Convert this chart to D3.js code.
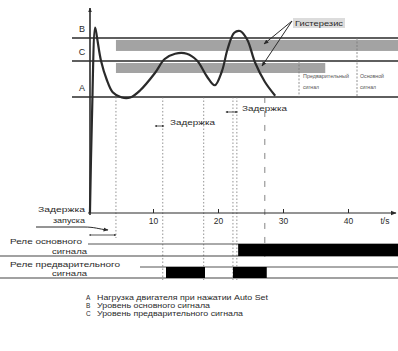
<!DOCTYPE html>
<html><head><meta charset="utf-8">
<script src="https://cdn.jsdelivr.net/npm/d3@7"></script>
<style>
html,body{margin:0;padding:0;background:#fff;}
svg{display:block;font-family:"Liberation Sans",Arial,sans-serif;}
</style></head>
<body>
<svg id="c" width="398" height="351"></svg>
<script>
// ---- data ----
const levels = [{name:"B", v:100}, {name:"C", v:86.9}, {name:"A", v:66.3}];
const bands = [{v0:92.6, v1:98.9, t0:4.3, t1:47.7}, {v0:80, v1:85.7, t0:4.3, t1:36.5}];
const curveT = [0.3,0.6,1.1,1.4,2.0,2.9,3.8,5.2,6.5,8.0,10.3,11.8,13.4,15.2,16.8,18.3,19.5,20.6,21.5,22.5,23.4,24.5,25.7,27.2,28.8];
const curveV = [0,53,106,100,87,76,69,66,66,70,80,88,91,91,87,78,73,81,94,103,104,99,86,75,67];
const xTicks = [10,20,30,40];
const eventTimes = [4.3, 11.5, 17.8, 22.3, 22.9];
const mainRelay = [[23.1, 47.7]];
const preRelay = [[12.0, 18.0], [22.3, 27.5]];
const legendKeys = ["A","B","C"];
const legendTexts = ["Нагрузка двигателя при нажатии Auto Set","Уровень основного сигнала","Уровень предварительного сигнала"];

const svg = d3.select("#c");
const x = d3.scaleLinear().domain([0,40]).range([88,348]);
const y = d3.scaleLinear().domain([0,100]).range([213,38]);
const ink = "#2a2a2a";

function txt(s, tx, ty, size, len, anchor, col){
  const t = svg.append("text").attr("x",tx).attr("y",ty).attr("font-size",size)
    .attr("fill",col||ink).attr("text-anchor",anchor||"start").text(s);
  if (len) t.attr("textLength",len).attr("lengthAdjust","spacingAndGlyphs");
  return t;
}

// defs
const defs = svg.append("defs");
defs.append("marker").attr("id","ah").attr("viewBox","0 0 10 10").attr("refX",9).attr("refY",5)
  .attr("markerWidth",5).attr("markerHeight",5).attr("orient","auto-start-reverse")
  .append("path").attr("d","M0,1L10,5L0,9z").attr("fill",ink);
defs.append("marker").attr("id","ahs").attr("viewBox","0 0 10 10").attr("refX",9).attr("refY",5)
  .attr("markerWidth",3).attr("markerHeight",3).attr("orient","auto-start-reverse")
  .append("path").attr("d","M0,1L10,5L0,9z").attr("fill",ink);

// bands
svg.selectAll("rect.band").data(bands).join("rect").attr("class","band")
  .attr("x",d=>x(d.t0)).attr("width",d=>x(d.t1)-x(d.t0))
  .attr("y",d=>y(d.v1)).attr("height",d=>y(d.v0)-y(d.v1))
  .attr("fill","#a3a3a3");

// level lines
svg.selectAll("line.lvl").data(levels).join("line").attr("class","lvl")
  .attr("x1",72).attr("x2",398).attr("y1",d=>y(d.v)).attr("y2",d=>y(d.v))
  .attr("stroke",ink).attr("stroke-width",1.4);
svg.selectAll("text.lvl").data(levels).join("text").attr("class","lvl")
  .attr("x",82).attr("y",d=>y(d.v)-6).attr("text-anchor","middle")
  .attr("font-size",9).attr("fill",ink).text(d=>d.name);

// event dashed verticals
svg.selectAll("line.ev").data(eventTimes).join("line").attr("class","ev")
  .attr("x1",d=>x(d)).attr("x2",d=>x(d)).attr("y1",y(66.3)).attr("y2",(d,i)=>i===0?238:280)
  .attr("stroke","#777").attr("stroke-width",0.8).attr("stroke-dasharray","1.5,2");
svg.append("line").attr("x1",x(27.2)).attr("x2",x(27.2)).attr("y1",y(66.3)).attr("y2",265)
  .attr("stroke","#666").attr("stroke-width",0.8).attr("stroke-dasharray","6,8");

// y axis
svg.append("line").attr("x1",90).attr("x2",90).attr("y1",215).attr("y2",8)
  .attr("stroke",ink).attr("stroke-width",1.6).attr("marker-end","url(#ahs)");

// x axis
const xAxis = d3.axisBottom(x).tickValues(xTicks).tickSize(-4).tickPadding(5);
const gx = svg.append("g").attr("transform","translate(0,213)").call(xAxis);
gx.select(".domain").remove();
gx.selectAll("line").attr("stroke",ink);
gx.selectAll("text").attr("font-size",8.5).attr("fill",ink);
svg.append("line").attr("x1",88).attr("x2",396).attr("y1",213).attr("y2",213)
  .attr("stroke",ink).attr("stroke-width",1.2).attr("marker-end","url(#ah)");
txt("t/s",385,224,8.5,null,"middle");

// curve
const pts = curveT.map((t,i)=>[x(t), y(curveV[i])]);
svg.append("path").attr("d", d3.line().curve(d3.curveCatmullRom.alpha(0.5))(pts))
  .attr("fill","none").attr("stroke",ink).attr("stroke-width",2.2);

// Hysteresis label
svg.append("rect").attr("x",293).attr("y",18).attr("width",52).attr("height",10).attr("fill","#dcdcdc");
txt("Гистерезис",319,26,7.5,48,"middle");
svg.append("line").attr("x1",292).attr("y1",21).attr("x2",264).attr("y2",44).attr("stroke",ink).attr("stroke-width",1).attr("marker-end","url(#ah)");
svg.append("line").attr("x1",292).attr("y1",21).attr("x2",262).attr("y2",66).attr("stroke",ink).attr("stroke-width",1).attr("marker-end","url(#ah)");

// signal labels at right
svg.append("line").attr("x1",299).attr("x2",299).attr("y1",y(86.9)).attr("y2",y(66.3)).attr("stroke","#777").attr("stroke-width",0.8).attr("stroke-dasharray","2,1.5");
svg.append("line").attr("x1",357).attr("x2",357).attr("y1",y(100)).attr("y2",y(66.3)).attr("stroke","#777").attr("stroke-width",0.8).attr("stroke-dasharray","2,1.5");
txt("Предварительный",303,78,5.5,46,"start","#555");
txt("сигнал",303,89,5.5,16,"start","#555");
txt("Основной",360,78,5.5,24,"start","#555");
txt("сигнал",360,89,5.5,16,"start","#555");

// delay labels
function delay(tx, ty, t0, t1){
  svg.append("line").attr("x1",x(t0)).attr("x2",x(t1)).attr("y1",ty).attr("y2",ty)
    .attr("stroke",ink).attr("stroke-width",0.8).attr("marker-start","url(#ahs)").attr("marker-end","url(#ahs)");
  txt("Задержка",tx,ty-1,7,45);
}
delay(170, 126, 10.3, 11.7);
delay(242, 112, 21.2, 23.0);

// start delay
txt("Задержка",85,212,7,47,"end");
txt("запуска",85,223,7,32,"end");
svg.append("path").attr("d","M36,227 L84,227 C95,227 98,229 108,230").attr("fill","none").attr("stroke",ink).attr("stroke-width",1).attr("marker-end","url(#ah)");
svg.append("line").attr("x1",x(0.2)).attr("x2",x(4.3)).attr("y1",235).attr("y2",235)
  .attr("stroke",ink).attr("stroke-width",0.8).attr("marker-start","url(#ahs)").attr("marker-end","url(#ahs)");

// relay lanes
function lane(top, bot, data, label1, len1, label2, lineStart){
  svg.append("line").attr("x1",lineStart).attr("x2",398).attr("y1",top).attr("y2",top).attr("stroke","#555").attr("stroke-width",1);
  svg.append("line").attr("x1",0).attr("x2",398).attr("y1",bot).attr("y2",bot).attr("stroke","#444").attr("stroke-width",1.2);
  svg.selectAll(null).data(data).join("rect")
    .attr("x",d=>x(d[0])).attr("width",d=>x(d[1])-x(d[0]))
    .attr("y",top).attr("height",bot-top).attr("fill","#000");
  txt(label1,10,top,7.5,len1);
  txt(label2,87,bot-2,7.5,35,"end");
}
lane(244, 256, mainRelay, "Реле основного", 72, "сигнала", 88);
lane(267, 278, preRelay, "Реле предварительного", 110, "сигнала", 140);

// legend
const legLens = [171, 113, 146];
legendKeys.forEach((k,i)=>{
  txt(k,86,300+i*8,6.5);
  txt(legendTexts[i],97,300+i*8,6.5,legLens[i]);
});
</script>
</body></html>
